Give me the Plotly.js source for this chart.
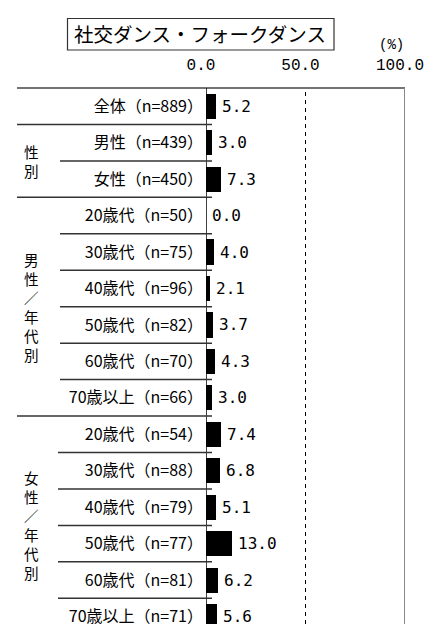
<!DOCTYPE html>
<html><head><meta charset="utf-8">
<script src="https://cdn.plot.ly/plotly-3.0.1.min.js"></script>
<style>html,body{margin:0;padding:0;background:#fff;}</style>
</head><body>
<div id="chart" style="width:436px;height:624px;"></div>
<script>
// ---- data ----
const categories = [
  "全体（n=889）",
  "男性（n=439）", "女性（n=450）",
  "20歳代（n=50）", "30歳代（n=75）", "40歳代（n=96）", "50歳代（n=82）", "60歳代（n=70）", "70歳以上（n=66）",
  "20歳代（n=54）", "30歳代（n=88）", "40歳代（n=79）", "50歳代（n=77）", "60歳代（n=81）", "70歳以上（n=71）"
];
const values = [5.2, 3.0, 7.3, 0.0, 4.0, 2.1, 3.7, 4.3, 3.0, 7.4, 6.8, 5.1, 13.0, 6.2, 5.6];
const groupLabels = ["性別", "男性／年代別", "女性／年代別"];
const groupStart = [1, 3, 9];
const groupEnd = [2, 8, 14];
const xTickVals = [0, 50, 100];
const titleText = "社交ダンス・フォークダンス";
const unitText = "(%)";

// ---- layout geometry ----
const W = 436, H = 624, ML = 206, MR = 31, MT = 88, MB = 0;
const PW = W - ML - MR, PH = H - MT - MB;
const rowH = 36.45;
const px2x = p => (p - ML) / PW;
const py2y = p => (H - MB - p) / PH;
const yBottom = PH / rowH - 0.5;

const idx = categories.map((_, i) => i);

const trace = {
  type: 'bar', orientation: 'h',
  x: values, y: idx,
  width: 0.69,
  marker: {color: '#000000', line: {width: 0}},
  hoverinfo: 'none'
};

const shapes = [];
// top border
shapes.push({type: 'line', xref: 'paper', yref: 'paper', x0: px2x(17), x1: 1, y0: 1, y1: 1,
  line: {color: '#444444', width: 1.5}});
// zero line, 50 dashed, 100 border
shapes.push({type: 'line', xref: 'x', yref: 'paper', x0: xTickVals[0], x1: xTickVals[0], y0: 0, y1: 1,
  line: {color: '#000000', width: 1.5}});
shapes.push({type: 'line', xref: 'x', yref: 'paper', x0: xTickVals[1], x1: xTickVals[1], y0: 0, y1: 1,
  line: {color: '#000000', width: 1, dash: '4px,4px'}});
shapes.push({type: 'line', xref: 'x', yref: 'paper', x0: xTickVals[2], x1: xTickVals[2], y0: 0, y1: 1,
  line: {color: '#888888', width: 2}});
// row separators
for (let i = 0; i < categories.length - 1; i++) {
  const b = i + 0.5;
  const isGroupBoundary = (i === 0) || groupEnd.includes(i);
  let left;
  if (isGroupBoundary) left = 17;
  else left = (i >= groupStart[2]) ? 58 : 60;
  shapes.push({type: 'line', xref: 'paper', yref: 'y', x0: px2x(left), x1: px2x(212), y0: b, y1: b,
    line: {color: '#333333', width: 1.5}});
}
// title box
shapes.push({type: 'rect', xref: 'paper', yref: 'paper', x0: px2x(67.5), x1: px2x(334), y0: py2y(18.5), y1: py2y(50),
  line: {color: '#333333', width: 1.2}, fillcolor: 'rgba(0,0,0,0)'});

const annotations = [];
values.forEach((v, i) => {
  annotations.push({x: v, y: i, xref: 'x', yref: 'y', text: v.toFixed(1), showarrow: false,
    xanchor: 'left', yanchor: 'middle', xshift: 4,
    font: {family: 'DejaVu Sans Mono', size: 16, color: '#000000'}});
});
groupLabels.forEach((g, k) => {
  annotations.push({x: px2x(31), y: (groupStart[k] + groupEnd[k]) / 2, xref: 'paper', yref: 'y',
    text: Array.from(g).join('<br>'), showarrow: false, xanchor: 'center', yanchor: 'middle',
    font: {family: 'Noto Sans CJK JP', size: 14.6, color: '#000000'}});
});
annotations.push({x: px2x(200), y: py2y(34), xref: 'paper', yref: 'paper', text: titleText, showarrow: false,
  xanchor: 'center', yanchor: 'middle', font: {family: 'Noto Sans CJK JP', size: 19.5, color: '#000000'}});
annotations.push({x: px2x(391), y: py2y(45), xref: 'paper', yref: 'paper', text: unitText, showarrow: false,
  xanchor: 'center', yanchor: 'middle', font: {family: 'Liberation Mono', size: 14, color: '#000000'}});

const layout = {
  width: W, height: H,
  margin: {l: ML, r: MR, t: MT, b: MB, pad: 0},
  paper_bgcolor: '#ffffff', plot_bgcolor: '#ffffff',
  showlegend: false,
  bargap: 0,
  xaxis: {side: 'top', range: [0, 100], tickvals: xTickVals, tickformat: '.1f',
    showgrid: false, zeroline: false, showline: false, ticks: '',
    ticklabelstandoff: 14, ticklabelshift: -5,
    tickfont: {family: 'Liberation Mono', size: 16, color: '#000000'}, fixedrange: true},
  yaxis: {range: [yBottom, -0.5], autorange: false, tickvals: idx, ticktext: categories,
    showgrid: false, zeroline: false, showline: false, ticks: '',
    ticklabelstandoff: 2, ticklabeloverflow: 'allow',
    tickfont: {family: 'Noto Sans CJK JP', size: 16, color: '#000000'}, fixedrange: true},
  shapes: shapes,
  annotations: annotations
};

Plotly.newPlot('chart', [trace], layout, {staticPlot: true, displayModeBar: false});
</script>
</body></html>
